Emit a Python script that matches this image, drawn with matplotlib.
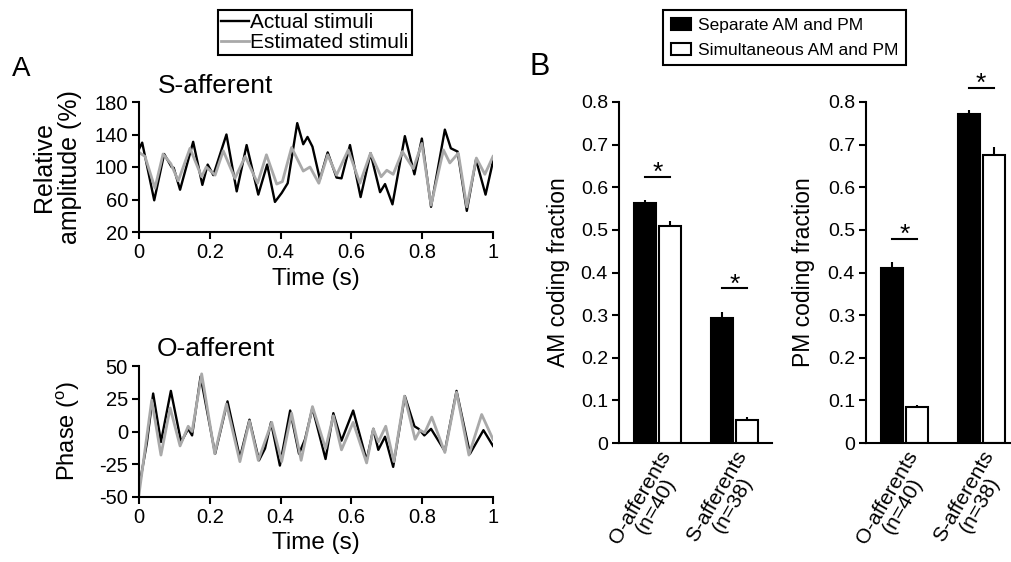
import numpy as np
import matplotlib
matplotlib.use("Agg")
from matplotlib import pyplot as plt
from matplotlib import transforms

plt.rcParams['font.family'] = ['Liberation Sans', 'DejaVu Sans']
plt.rcParams['mathtext.default'] = 'regular'
plt.rcParams['axes.unicode_minus'] = False

# ---- panel A traces ----
t_s_act = [0.0, 0.009, 0.043, 0.071, 0.092, 0.098, 0.116, 0.153, 0.179, 0.194, 0.21, 0.247,
           0.276, 0.304, 0.337, 0.362, 0.384, 0.403, 0.42, 0.447, 0.464, 0.476, 0.49, 0.511,
           0.533, 0.558, 0.572, 0.596, 0.626, 0.654, 0.681, 0.695, 0.716, 0.751, 0.778,
           0.799, 0.825, 0.864, 0.881, 0.9, 0.926, 0.952, 0.979, 1.0]
s_act = [122, 130, 59, 116, 100, 99, 72, 131, 78, 103, 90, 140,
         70, 127, 66, 103, 57, 68, 80, 154, 128, 137, 125, 85,
         118, 87, 86, 127, 63, 117, 69, 79, 54, 138, 91,
         135, 51, 146, 123, 119, 46, 109, 66, 107]

t_s_est = [0.0, 0.017, 0.045, 0.068, 0.09, 0.111, 0.144, 0.177, 0.19, 0.215, 0.238, 0.271,
           0.3, 0.335, 0.36, 0.389, 0.405, 0.431, 0.464, 0.483, 0.508, 0.533, 0.558, 0.591,
           0.624, 0.654, 0.684, 0.7, 0.718, 0.744, 0.775, 0.799, 0.825, 0.86, 0.878, 0.902,
           0.926, 0.953, 0.977, 1.0]
s_est = [118, 113, 74, 116, 104, 83, 123, 88, 100, 90, 120, 86,
         113, 80, 115, 79, 82, 124, 95, 100, 80, 115, 90, 121,
         80, 117, 88, 96, 91, 119, 98, 129, 53, 121, 105, 117,
         51, 111, 91, 113]

t_o_act = [0.0, 0.022, 0.04, 0.062, 0.09, 0.119, 0.139, 0.15, 0.174, 0.215, 0.25, 0.285,
           0.312, 0.339, 0.356, 0.373, 0.398, 0.427, 0.452, 0.469, 0.49, 0.527, 0.549,
           0.572, 0.605, 0.643, 0.662, 0.676, 0.695, 0.718, 0.751, 0.778, 0.79, 0.806,
           0.825, 0.864, 0.897, 0.935, 0.973, 1.0]
o_act = [-43, -9, 29, -8, 31, -8, 2, -3, 42, -17, 23, -20,
         9, -22, -13, 7, -26, 16, -17, -6, 18, -21, 14,
         -7, 16, -22, 2, -14, -4, -27, 27, 4, 2, -3,
         2, -15, 31, -17, 1, -11]

t_o_est = [0.0, 0.036, 0.062, 0.088, 0.116, 0.139, 0.15, 0.177, 0.214, 0.247, 0.285, 0.312,
           0.337, 0.375, 0.403, 0.431, 0.458, 0.49, 0.527, 0.549, 0.572, 0.605, 0.643,
           0.662, 0.676, 0.697, 0.72, 0.75, 0.78, 0.794, 0.807, 0.827, 0.864, 0.897,
           0.932, 0.968, 1.0]
o_est = [-48, 24, -18, 18, -11, 4, 0, 44, -17, 21, -23, 8,
         -22, 7, -23, 14, -22, 19, -13, 12, -14, 7, -24,
         2, -8, 4, -23, 27, -6, 1, -1, 11, -16, 30,
         -18, 13, -6]

# ---- panel B bars ----
groups = ['O-afferents\n(n=40)', 'S-afferents\n(n=38)']
am_sep = [0.562, 0.294]
am_sep_err = [0.008, 0.014]
am_sim = [0.509, 0.054]
am_sim_err = [0.012, 0.008]
pm_sep = [0.410, 0.773]
pm_sep_err = [0.015, 0.008]
pm_sim = [0.085, 0.675]
pm_sim_err = [0.004, 0.020]
am_sig = [0.624, 0.363]
pm_sig = [0.479, 0.834]

W, H = 1011, 562
fig = plt.figure(figsize=(W / 100, H / 100), dpi=100)


def px_axes(x0, y0, x1, y1):
    return fig.add_axes([x0 / W, 1 - y1 / H, (x1 - x0) / W, (y1 - y0) / H])


def style(ax, size, lw=1.5):
    for s in ['top', 'right']:
        ax.spines[s].set_visible(False)
    for s in ['left', 'bottom']:
        ax.spines[s].set_linewidth(lw)
    ax.tick_params(width=lw, length=5, direction='out', labelsize=size, pad=3)


gray = '#a9a9a9'

ax1 = px_axes(139, 102, 493, 232)
style(ax1, 14.5)
l1, = ax1.plot(t_s_act, s_act, color='black', lw=1.7, solid_joinstyle='round')
l2, = ax1.plot(t_s_est, s_est, color=gray, lw=2.0, solid_joinstyle='round')
ax1.set_xlim(0, 1)
ax1.set_ylim(20, 180)
ax1.set_yticks([20, 60, 100, 140, 180])
ax1.set_xticks([0, 0.2, 0.4, 0.6, 0.8, 1])
ax1.set_xticklabels(['0', '0.2', '0.4', '0.6', '0.8', '1'])
ax1.set_ylabel('Relative\namplitude (%)', fontsize=18, linespacing=1.15)
ax1.yaxis.set_label_coords(-0.16, 0.5)
ax1.set_xlabel('Time (s)', fontsize=17.5)
ax1.xaxis.set_label_coords(0.5, -0.28)

ax2 = px_axes(139, 366, 493, 497)
style(ax2, 14.5)
ax2.plot(t_o_act, o_act, color='black', lw=1.7, solid_joinstyle='round')
ax2.plot(t_o_est, o_est, color=gray, lw=2.0, solid_joinstyle='round')
ax2.set_xlim(0, 1)
ax2.set_ylim(-50, 50)
ax2.set_yticks([-50, -25, 0, 25, 50])
ax2.set_xticks([0, 0.2, 0.4, 0.6, 0.8, 1])
ax2.set_xticklabels(['0', '0.2', '0.4', '0.6', '0.8', '1'])
ax2.set_ylabel(r'Phase ($^{o}$)', fontsize=17)
ax2.yaxis.set_label_coords(-0.16, 0.5)
ax2.set_xlabel('Time (s)', fontsize=17.5)
ax2.xaxis.set_label_coords(0.5, -0.27)

fig.text(158 / W, 1 - 93 / H, 'S-afferent', fontsize=19, ha='left', va='baseline')
fig.text(157 / W, 1 - 356 / H, 'O-afferent', fontsize=19, ha='left', va='baseline')
fig.text(12 / W, 1 - 76 / H, 'A', fontsize=20, ha='left', va='baseline')
fig.text(529 / W, 1 - 75 / H, 'B', fontsize=22, ha='left', va='baseline')

leg1 = fig.legend([l1, l2], ['Actual stimuli', 'Estimated stimuli'],
                  loc='upper left', bbox_to_anchor=(218 / W, 1 - 10 / H),
                  fontsize=15, handlelength=1.35, handletextpad=0.05, borderpad=0.15,
                  labelspacing=0.05, borderaxespad=0, fancybox=False, framealpha=1)
leg1.get_frame().set_edgecolor('black')
leg1.get_frame().set_linewidth(1.5)

# bar panels
x = np.arange(len(groups))
bw = 0.288
off = 0.163
shift = transforms.ScaledTranslation(-7 / 100, 0, fig.dpi_scale_trans)


def bar_panel(ax, sep, sep_err, sim, sim_err, sig, ylabel, xmax):
    style(ax, 14)
    b1 = ax.bar(x - off, sep, bw, color='black', edgecolor='black', lw=1.5,
                yerr=[[0] * len(sep), sep_err], error_kw=dict(ecolor='black', elinewidth=1.5, capsize=0))
    b2 = ax.bar(x + off, sim, bw, color='white', edgecolor='black', lw=1.5,
                yerr=[[0] * len(sim), sim_err], error_kw=dict(ecolor='black', elinewidth=1.5, capsize=0))
    for xi, yi in zip(x, sig):
        ax.plot([xi - off, xi + off], [yi, yi], color='black', lw=1.5, clip_on=False)
        ax.text(xi, yi - 0.019, '*', fontsize=19, ha='center', va='bottom')
    ax.set_xlim(-0.504, xmax)
    ax.set_ylim(0, 0.8)
    ax.set_yticks([0, 0.1, 0.2, 0.3, 0.4, 0.5, 0.6, 0.7, 0.8])
    ax.set_yticklabels(['0', '0.1', '0.2', '0.3', '0.4', '0.5', '0.6', '0.7', '0.8'])
    ax.set_xticks(x)
    ax.set_xticklabels(groups, rotation=60, ha='right', va='top', rotation_mode='anchor',
                       multialignment='center', fontsize=15, linespacing=0.95)
    for lab in ax.get_xticklabels():
        lab.set_transform(lab.get_transform() + shift)
    ax.tick_params(axis='x', length=0, pad=3)
    ax.set_ylabel(ylabel, fontsize=16.5)
    return b1, b2


ax3 = px_axes(619, 102, 772, 443)
b1, b2 = bar_panel(ax3, am_sep, am_sep_err, am_sim, am_sim_err, am_sig,
                   'AM coding fraction', 1.49)
ax3.yaxis.set_label_coords(-0.32, 0.5)
ax4 = px_axes(866, 102, 1010, 443)
bar_panel(ax4, pm_sep, pm_sep_err, pm_sim, pm_sim_err, pm_sig,
          'PM coding fraction', 1.378)
ax4.yaxis.set_label_coords(-0.354, 0.5)

leg2 = fig.legend([b1, b2], ['Separate AM and PM', 'Simultaneous AM and PM'],
                  loc='upper left', bbox_to_anchor=(663 / W, 1 - 10 / H),
                  fontsize=12.5, handlelength=1.15, handleheight=0.7, handletextpad=0.4,
                  borderpad=0.45, labelspacing=0.55, borderaxespad=0, fancybox=False, framealpha=1)
leg2.get_frame().set_edgecolor('black')
leg2.get_frame().set_linewidth(1.5)

fig.savefig('out.png', dpi=100)
